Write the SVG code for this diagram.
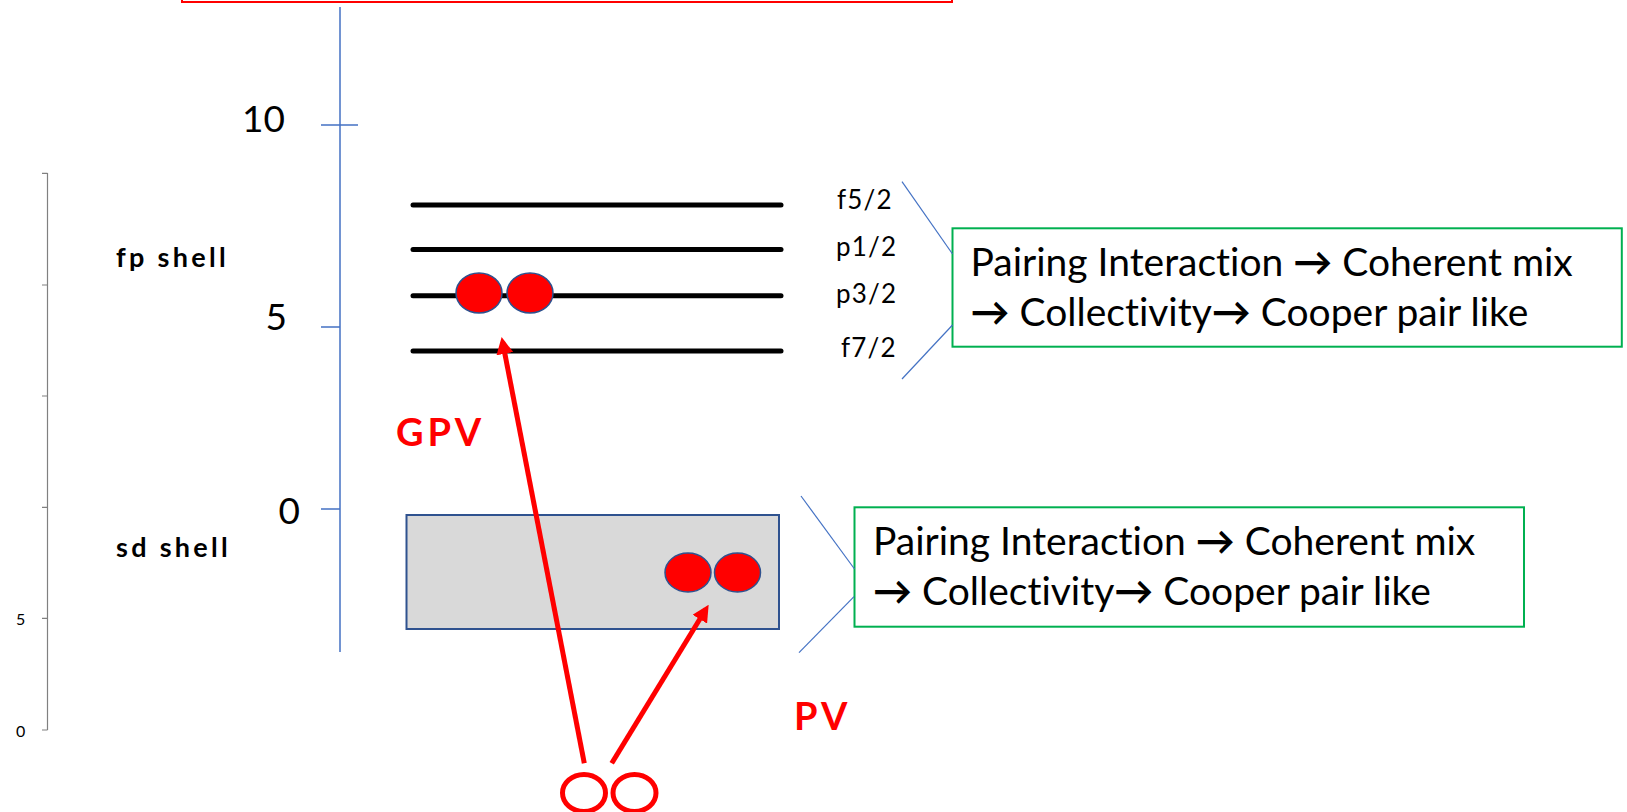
<svg xmlns="http://www.w3.org/2000/svg" width="1627" height="812" viewBox="0 0 1627 812">
  <style>
    text { font-variant-ligatures: none; }
    .lvl { stroke: #000; stroke-width: 5; stroke-linecap: round; fill: none; }
    .axis { stroke: #4472C4; stroke-width: 1.5; fill: none; }
    .gaxis { stroke: #808080; stroke-width: 1.2; fill: none; }
    .brace { stroke: #4472C4; stroke-width: 1.2; fill: none; }
    .note { fill: #fff; stroke: #00B050; stroke-width: 2; }
    .notetxt { font-family: Lato, "Liberation Sans", sans-serif; font-size: 39px; fill: #000; }
    .arr { font-weight: bold; }
    .tick { font-family: Lato, "Liberation Sans", sans-serif; font-size: 37px; fill: #000; }
    .small { font-family: Lato, "Liberation Sans", sans-serif; font-size: 16px; fill: #000; }
    .jlab { font-family: Lato, "Liberation Sans", sans-serif; font-size: 26px; fill: #000; letter-spacing: 1.2px; }
    .shell { font-family: Lato, "Liberation Sans", sans-serif; font-size: 27px; font-weight: bold; fill: #000; letter-spacing: 3.3px; }
    .red { font-family: Lato, "Liberation Sans", sans-serif; font-size: 38px; font-weight: bold; fill: #FF0000; letter-spacing: 4px; }
    .pair { fill: #FF0000; stroke: #2F528F; stroke-width: 1.5; }
    .hole { fill: none; stroke: #FF0000; stroke-width: 5; }
    .arrow { stroke: #FF0000; stroke-width: 5; fill: none; }
  </style>
  <defs>
    <marker id="head" viewBox="0 0 10 10" refX="7" refY="5" markerWidth="3.4" markerHeight="3.4" markerUnits="strokeWidth" orient="auto">
      <path d="M0,0 L10,5 L0,10 z" fill="#FF0000"/>
    </marker>
  </defs>

  <rect width="1627" height="812" fill="#fff"/>

  <!-- red frame running off the top edge -->
  <rect x="182" y="-40" width="770" height="42" fill="none" stroke="#FF0000" stroke-width="2"/>

  <!-- secondary grey scale on the left -->
  <g id="grey-scale">
    <path class="gaxis" d="M47.5,173 V730 M42,173.3 H47.5 M42,285 H47.5 M42,396 H47.5 M42,507.3 H47.5 M42,618.3 H47.5 M42,730 H47.5"/>
    <text class="small" x="16" y="625">5</text>
    <text class="small" x="16" y="736.5">0</text>
  </g>

  <!-- energy axis -->
  <g id="energy-axis">
    <path class="axis" d="M340,7 V652 M321,125 H358 M321,327 H340 M321,509 H340"/>
    <text class="tick" x="285" y="132" text-anchor="end">10</text>
    <text class="tick" x="287" y="330" text-anchor="end">5</text>
    <text class="tick" x="300" y="524" text-anchor="end">0</text>
  </g>

  <!-- fp shell orbitals -->
  <g id="fp-shell">
    <text class="shell" x="116" y="266.5">fp shell</text>
    <line class="lvl" x1="413" y1="205" x2="781" y2="205"/>
    <line class="lvl" x1="413" y1="249.5" x2="781" y2="249.5"/>
    <line class="lvl" x1="413" y1="295.7" x2="781" y2="295.7"/>
    <line class="lvl" x1="413" y1="351" x2="781" y2="351"/>
    <text class="jlab" x="837" y="209">f5/2</text>
    <text class="jlab" x="836" y="256">p1/2</text>
    <text class="jlab" x="836" y="303">p3/2</text>
    <text class="jlab" x="841" y="357">f7/2</text>
    <ellipse class="pair" cx="479" cy="293" rx="23" ry="20"/>
    <ellipse class="pair" cx="530" cy="293" rx="23" ry="20"/>
  </g>

  <!-- sd shell block -->
  <g id="sd-shell">
    <text class="shell" x="116" y="556.5">sd shell</text>
    <rect x="406.5" y="515" width="372.5" height="114" fill="#D9D9D9" stroke="#2F528F" stroke-width="2"/>
    <ellipse class="pair" cx="688" cy="572.5" rx="23" ry="19.5"/>
    <ellipse class="pair" cx="737.5" cy="572.5" rx="23" ry="19.5"/>
  </g>

  <!-- incoming pair (holes) -->
  <g id="pair-source">
    <ellipse class="hole" cx="584" cy="793" rx="21.5" ry="18.5"/>
    <ellipse class="hole" cx="634.5" cy="793" rx="21.5" ry="18.5"/>
  </g>

  <!-- note boxes -->
  <g id="note-fp">
    <rect class="note" x="952.5" y="228.3" width="669.3" height="118.4"/>
    <text class="notetxt" x="970.5" y="276">Pairing Interaction <tspan class="arr">→</tspan> Coherent mix</text>
    <text class="notetxt" x="970.5" y="326"><tspan class="arr">→</tspan> Collectivity<tspan class="arr">→</tspan> Cooper pair like</text>
  </g>
  <g id="note-sd">
    <rect class="note" x="854.5" y="507.3" width="669.5" height="119.4"/>
    <text class="notetxt" x="873" y="555">Pairing Interaction <tspan class="arr">→</tspan> Coherent mix</text>
    <text class="notetxt" x="873" y="605"><tspan class="arr">→</tspan> Collectivity<tspan class="arr">→</tspan> Cooper pair like</text>
  </g>

  <!-- labels -->
  <g id="labels">
    <text class="red" x="396" y="445.7">GPV</text>
    <text class="red" x="794" y="730">PV</text>
  </g>

  <!-- connectors -->
  <g id="connectors">
    <line class="brace" x1="902" y1="181.6" x2="952.5" y2="254"/>
    <line class="brace" x1="952.5" y1="325" x2="902" y2="379"/>
    <line class="brace" x1="801" y1="496" x2="854.5" y2="569"/>
    <line class="brace" x1="854" y1="596.6" x2="799" y2="652.7"/>
    <line class="arrow" x1="584.3" y1="763.3" x2="502.6" y2="342" marker-end="url(#head)"/>
    <line class="arrow" x1="611.7" y1="763.3" x2="706" y2="609" marker-end="url(#head)"/>
  </g>
</svg>
